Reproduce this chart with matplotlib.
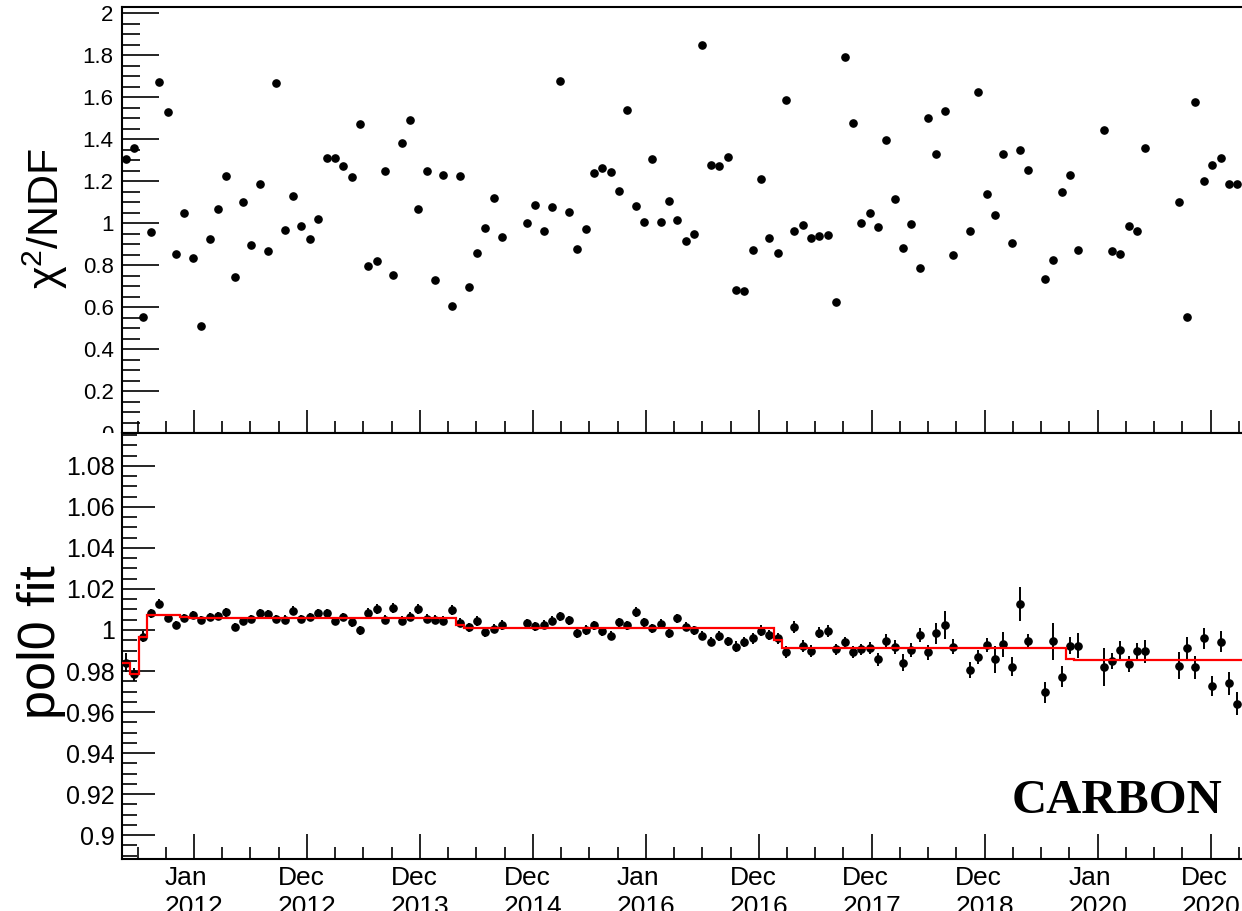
import numpy as np
import matplotlib.pyplot as plt
from matplotlib.patches import Rectangle
from matplotlib.ticker import FixedLocator, FuncFormatter

plt.rcParams['font.family'] = ['Liberation Sans', 'DejaVu Sans']
plt.rcParams['mathtext.fontset'] = 'custom'
plt.rcParams['mathtext.rm'] = 'Liberation Sans'
plt.rcParams['mathtext.it'] = 'Liberation Sans:italic'

# Bartels rotation slot of each point (27 days apart), gaps where no data
rot = (list(range(0, 46)) + list(range(48, 100)) + list(range(101, 109))
       + list(range(110, 115)) + list(range(117, 123)) + list(range(126, 135)))

chi2 = [1.305, 1.357, 0.552, 0.959, 1.673, 1.530, 0.852, 1.046, 0.832, 0.508,
        0.925, 1.068, 1.222, 0.744, 1.102, 0.897, 1.184, 0.865, 1.667, 0.965,
        1.129, 0.987, 0.924, 1.019, 1.308, 1.308, 1.273, 1.217, 1.470, 0.794,
        0.819, 1.248, 0.752, 1.379, 1.490, 1.067, 1.249, 0.729, 1.230, 0.606,
        1.222, 0.695, 0.859, 0.975, 1.121, 0.932,
        0.998, 1.087, 0.960, 1.076, 1.676, 1.052, 0.878, 0.970, 1.240, 1.262,
        1.241, 1.152, 1.540, 1.081, 1.005, 1.306, 1.005, 1.103, 1.013, 0.913,
        0.948, 1.846, 1.275, 1.270, 1.313, 0.681, 0.676, 0.871, 1.210, 0.929,
        0.857, 1.587, 0.960, 0.989, 0.929, 0.937, 0.944, 0.624, 1.790, 1.478,
        1.002, 1.046, 0.981, 1.395, 1.113, 0.881, 0.997, 0.784, 1.498, 1.329,
        1.532, 0.848,
        0.963, 1.624, 1.138, 1.040, 1.329, 0.905, 1.349, 1.254,
        0.735, 0.822, 1.148, 1.227, 0.873,
        1.444, 0.868, 0.854, 0.987, 0.960, 1.357,
        1.100, 0.552, 1.578, 1.200, 1.278, 1.310, 1.184, 1.184, 0.929]

pol0 = [0.9841, 0.9784, 0.9968, 1.0081, 1.0128, 1.0060, 1.0024, 1.0057, 1.0073, 1.0050,
        1.0063, 1.0067, 1.0086, 1.0016, 1.0044, 1.0052, 1.0081, 1.0076, 1.0055, 1.0050,
        1.0094, 1.0054, 1.0065, 1.0081, 1.0081, 1.0045, 1.0062, 1.0039, 0.9998, 1.0083,
        1.0104, 1.0049, 1.0106, 1.0044, 1.0065, 1.0102, 1.0054, 1.0050, 1.0045, 1.0097,
        1.0036, 1.0013, 1.0042, 0.9989, 1.0005, 1.0026,
        1.0034, 1.0018, 1.0026, 1.0045, 1.0067, 1.0047, 0.9984, 1.0000, 1.0024, 0.9995,
        0.9972, 1.0037, 1.0024, 1.0089, 1.0037, 1.0008, 1.0031, 0.9985, 1.0057,
        1.0016, 0.9998, 0.9972, 0.9943, 0.9971, 0.9946, 0.9919, 0.9940, 0.9959, 0.9997,
        0.9977, 0.9959, 0.9893, 1.0013, 0.9922, 0.9898, 0.9987, 0.9994, 0.9906, 0.9940,
        0.9893, 0.9906, 0.9912, 0.9857, 0.9946, 0.9917, 0.9841, 0.9903, 0.9976, 0.9891,
        0.9984, 1.0026, 0.9919,
        0.9805, 0.9868, 0.9927, 0.9857, 0.9930, 0.9821, 1.0125, 0.9945,
        0.9696, 0.9946, 0.9773, 0.9924, 0.9924,
        0.9818, 0.9849, 0.9901, 0.9833, 0.9899, 0.9896,
        0.9826, 0.9911, 0.9818, 0.9959, 0.9727, 0.9943, 0.9740, 0.9641, 0.9743]

pol0_err = [0.0045, 0.0033, 0.0025, 0.0022, 0.0022, 0.0020, 0.0020, 0.0020, 0.0020, 0.0020,
            0.0020, 0.0020, 0.0022, 0.0020, 0.0020, 0.0020, 0.0022, 0.0022, 0.0020, 0.0022,
            0.0022, 0.0020, 0.0020, 0.0022, 0.0022, 0.0020, 0.0020, 0.0022, 0.0022, 0.0022,
            0.0024, 0.0022, 0.0024, 0.0022, 0.0022, 0.0024, 0.0022, 0.0022, 0.0022, 0.0024,
            0.0022, 0.0022, 0.0024, 0.0022, 0.0022, 0.0024,
            0.0022, 0.0022, 0.0022, 0.0022, 0.0022, 0.0022, 0.0022, 0.0022, 0.0022, 0.0022,
            0.0022, 0.0022, 0.0022, 0.0024, 0.0022, 0.0022, 0.0022, 0.0022, 0.0022,
            0.0022, 0.0022, 0.0022, 0.0022, 0.0025, 0.0022, 0.0025, 0.0025, 0.0025, 0.0025,
            0.0025, 0.0025, 0.0028, 0.0030, 0.0028, 0.0028, 0.0028, 0.0028, 0.0028, 0.0028,
            0.0028, 0.0028, 0.0028, 0.0033, 0.0033, 0.0033, 0.0040, 0.0033, 0.0036, 0.0036,
            0.0050, 0.0068, 0.0037,
            0.0040, 0.0036, 0.0036, 0.0065, 0.0062, 0.0045, 0.0083, 0.0036,
            0.0052, 0.0090, 0.0052, 0.0040, 0.0062,
            0.0093, 0.0040, 0.0045, 0.0040, 0.0040, 0.0057,
            0.0065, 0.0057, 0.0057, 0.0050, 0.0050, 0.0050, 0.0057, 0.0057, 0.0050]

# pol0 fit, piecewise constant (edges in rotation slots)
fit_edges = [-0.48, 0.5, 1.5, 2.5, 6.5, 7.5, 39.5, 40.5, 77.5, 78.5, 112.5, 113.5, 134.6]
fit_level = [0.9841, 0.9784, 0.9968, 1.0073, 1.0062, 1.0057, 1.0023, 1.0008,
             0.9951, 0.9914, 0.9860, 0.9855]

tick_labels = ["Jan\n2012", "Dec\n2012", "Dec\n2013", "Dec\n2014", "Jan\n2016",
               "Dec\n2016", "Dec\n2017", "Dec\n2018", "Jan\n2020", "Dec\n2020"]

days = np.array(rot) * 27.0
fit_days = np.array(fit_edges) * 27.0
first_tick = 219.8
major = [first_tick + 365.0 * k for k in range(len(tick_labels))]
minor = [first_tick + 91.25 * m for m in range(-2, 40)]
xmin, xmax = -12.9, 3632.3

fig = plt.figure(figsize=(12.42, 9.11), dpi=100)
left, width = 122 / 1242, (1250 - 122) / 1242
ax1 = fig.add_axes([left, 1 - 433 / 911, width, 426 / 911], zorder=0)
ax2 = fig.add_axes([left, 1 - 859 / 911, width, 426 / 911], zorder=2)
fig.add_artist(Rectangle((0, 0), 1, 1 - 433 / 911, transform=fig.transFigure,
                         facecolor='white', edgecolor='none', zorder=1))

fmt = FuncFormatter(lambda v, p: '%g' % round(v, 4))

# top pad: chi2/NDF
ax1.plot(days, chi2, 'o', color='black', ms=5.2)
ax1.set_xlim(xmin, xmax)
ax1.set_ylim(0, 2.0286)
ax1.spines['right'].set_visible(False)
for s in ax1.spines.values():
    s.set_linewidth(1.5)
ax1.xaxis.set_major_locator(FixedLocator(major))
ax1.xaxis.set_minor_locator(FixedLocator(minor))
ax1.yaxis.set_major_locator(FixedLocator(np.arange(0, 2.01, 0.2)))
ax1.yaxis.set_minor_locator(FixedLocator(np.arange(0, 2.03, 0.05)))
ax1.yaxis.set_major_formatter(fmt)
ax1.tick_params(axis='x', which='major', direction='in', length=16.5, width=1.2, labelbottom=False)
ax1.tick_params(axis='x', which='minor', direction='in', length=8.6, width=1.2)
ax1.tick_params(axis='y', which='major', direction='in', length=26.5, width=1.2, labelsize=16, pad=6)
ax1.tick_params(axis='y', which='minor', direction='in', length=13, width=1.2)

# bottom pad: pol0 fit
ax2.errorbar(days, pol0, yerr=pol0_err, fmt='o', color='black', ms=5.2,
             elinewidth=1.4, capsize=0, zorder=3)
ax2.stairs(fit_level, fit_days, baseline=None, color='red', lw=1.6, zorder=4)
ax2.set_xlim(xmin, xmax)
ax2.set_ylim(0.8884, 1.0960)
ax2.spines['right'].set_visible(False)
for s in ax2.spines.values():
    s.set_linewidth(1.5)
ax2.xaxis.set_major_locator(FixedLocator(major))
ax2.xaxis.set_minor_locator(FixedLocator(minor))
ax2.set_xticklabels(tick_labels, ma='left', linespacing=1.27)
ax2.yaxis.set_major_locator(FixedLocator(np.arange(0.9, 1.0901, 0.02)))
ax2.yaxis.set_minor_locator(FixedLocator(np.arange(0.89, 1.096, 0.005)))
ax2.yaxis.set_major_formatter(fmt)
ax2.tick_params(axis='x', which='major', direction='in', length=18, width=1.2, labelsize=19, pad=5)
ax2.tick_params(axis='x', which='minor', direction='in', length=8.6, width=1.2)
ax2.tick_params(axis='y', which='major', direction='in', length=23.5, width=1.2, labelsize=18, pad=5)
ax2.tick_params(axis='y', which='minor', direction='in', length=10.8, width=1.2)

fig.text(45 / 1242, 1 - 218.5 / 911, r'χ$^{2}$/NDF', rotation=90, ha='center', va='center', fontsize=31)
fig.text(42 / 1242, 1 - 642.5 / 911, 'pol0 fit', rotation=90, ha='center', va='center', fontsize=37.5)
fig.text(1222 / 1242, 1 - 813 / 911, 'CARBON', ha='right', va='baseline',
         family='Liberation Serif', weight='bold', fontsize=35, zorder=5)

fig.savefig('out.png', dpi=100)
